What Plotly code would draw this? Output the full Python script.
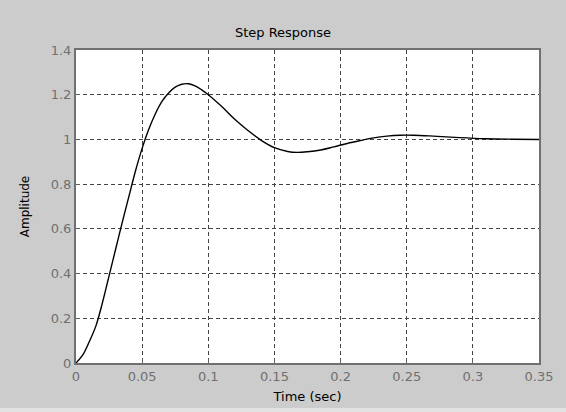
import plotly.graph_objects as go

# Step response
time_s = [0, 0.005, 0.01, 0.015, 0.02, 0.025, 0.03, 0.035, 0.04, 0.045,
          0.05, 0.055, 0.06, 0.065, 0.07, 0.075, 0.08, 0.085, 0.09, 0.095,
          0.1, 0.11, 0.12, 0.13, 0.14, 0.15, 0.16, 0.167, 0.175, 0.185,
          0.195, 0.205, 0.215, 0.225, 0.235, 0.245, 0.255, 0.27, 0.29, 0.31,
          0.33, 0.35]
amplitude = [0, 0.035, 0.095, 0.165, 0.27, 0.39, 0.51, 0.63, 0.745, 0.86,
             0.96, 1.045, 1.115, 1.17, 1.208, 1.234, 1.247, 1.249, 1.24, 1.222,
             1.2, 1.148, 1.09, 1.04, 0.996, 0.963, 0.946, 0.942, 0.945, 0.953,
             0.967, 0.982, 0.995, 1.007, 1.015, 1.019, 1.019, 1.015, 1.008, 1.003,
             1.001, 1.0]

x_ticks = [0, 0.05, 0.1, 0.15, 0.2, 0.25, 0.3, 0.35]
x_tick_text = ["0", "0.05", "0.1", "0.15", "0.2", "0.25", "0.3", "0.35"]
y_ticks = [0, 0.2, 0.4, 0.6, 0.8, 1.0, 1.2, 1.4]
y_tick_text = ["0", "0.2", "0.4", "0.6", "0.8", "1", "1.2", "1.4"]

FONT = "DejaVu Sans, Verdana, sans-serif"

fig = go.Figure()
fig.add_trace(go.Scatter(x=time_s, y=amplitude, mode="lines",
                         line=dict(color="black", width=1.4, shape="spline", smoothing=1.0),
                         hoverinfo="skip", showlegend=False))

axis_common = dict(
    showgrid=True, gridcolor="#444444", gridwidth=1, griddash="4px,3px",
    showline=True, linecolor="#707070", linewidth=2, mirror=True,
    ticks="inside", ticklen=4, tickcolor="#606060",
    tickfont=dict(family=FONT, size=13, color="#707070"),
    zeroline=False, automargin=False,
)

fig.update_xaxes(range=[0, 0.35], tickvals=x_ticks, ticktext=x_tick_text,
                 title=dict(text="Time (sec)", font=dict(family=FONT, size=13, color="black"), standoff=9),
                 **axis_common)
fig.update_yaxes(range=[0, 1.4], tickvals=y_ticks, ticktext=y_tick_text,
                 title=dict(text="Amplitude", font=dict(family=FONT, size=12, color="black"), standoff=19),
                 **axis_common)

fig.add_shape(type="rect", xref="paper", yref="paper", x0=-0.3, x1=1.2,
              y0=-0.1438, y1=-0.17, fillcolor="#e2e2e2", line=dict(width=0), layer="below")

fig.update_layout(
    width=566, height=412,
    margin=dict(l=76, r=27, t=50, b=49),
    paper_bgcolor="#cccccc", plot_bgcolor="white",
    title=dict(text="Step Response", x=0.5, xanchor="center", y=1 - 32 / 412, yanchor="middle",
               font=dict(family=FONT, size=13, color="black")),
)

fig.write_html("out.html")
